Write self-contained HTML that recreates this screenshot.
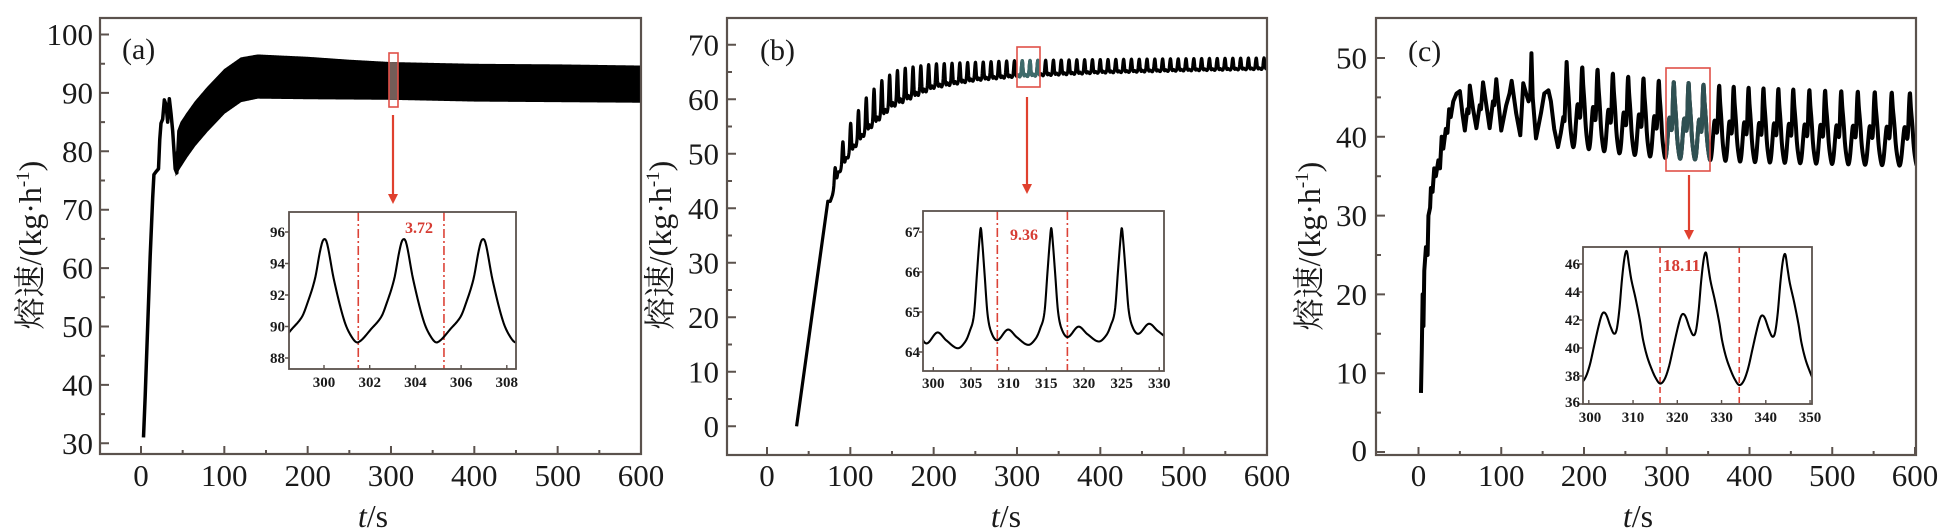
<!DOCTYPE html>
<html><head><meta charset="utf-8">
<style>
html,body{margin:0;padding:0;background:#fff;}
svg{display:block;}
text{font-family:"Liberation Serif","Noto Serif CJK SC",serif;fill:#1a1a1a;}
.yl{font-size:31px;text-anchor:end;}
.xl{font-size:31px;text-anchor:middle;}
.il{font-size:15px;font-weight:bold;text-anchor:end;}
.ix{font-size:15px;font-weight:bold;text-anchor:middle;}
.pl{font-size:30px;}
.tt{font-size:32px;text-anchor:middle;}
.rd{font-size:16px;font-weight:bold;fill:#d63c33;}
</style></head>
<body>
<svg id="s" width="1951" height="530" viewBox="0 0 1951 530" xmlns="http://www.w3.org/2000/svg">
<defs>
<clipPath id="cA"><rect x="100" y="18" width="541" height="436"/></clipPath>
<clipPath id="cB"><rect x="727" y="18" width="540" height="437"/></clipPath>
<clipPath id="cC"><rect x="1376" y="18" width="540" height="437"/></clipPath>
<clipPath id="ciA"><rect x="289" y="212" width="227" height="157"/></clipPath>
<clipPath id="ciB"><rect x="923" y="211" width="241" height="160"/></clipPath>
<clipPath id="ciC"><rect x="1583" y="247" width="229" height="157"/></clipPath>
<clipPath id="bA"><rect x="389" y="53" width="9" height="54"/></clipPath>
<clipPath id="bB"><rect x="1017" y="47" width="23" height="40"/></clipPath>
<clipPath id="bC"><rect x="1666" y="68" width="44" height="103"/></clipPath>
</defs>
<rect x="0" y="0" width="1951" height="530" fill="#fff"/>
<g id="dyn"></g>

<!-- Panel A labels -->
<text class="yl" x="93" y="45">100</text>
<text class="yl" x="93" y="103.4">90</text>
<text class="yl" x="93" y="161.8">80</text>
<text class="yl" x="93" y="220.2">70</text>
<text class="yl" x="93" y="278.6">60</text>
<text class="yl" x="93" y="337">50</text>
<text class="yl" x="93" y="395.4">40</text>
<text class="yl" x="93" y="453.8">30</text>
<text class="xl" x="141" y="486">0</text>
<text class="xl" x="224.3" y="486">100</text>
<text class="xl" x="307.7" y="486">200</text>
<text class="xl" x="391" y="486">300</text>
<text class="xl" x="474.3" y="486">400</text>
<text class="xl" x="557.7" y="486">500</text>
<text class="xl" x="641" y="486">600</text>
<text class="pl" x="122" y="59">(a)</text>
<text class="tt" x="373" y="527"><tspan font-style="italic">t</tspan>/s</text>
<text class="tt" transform="translate(41,245) rotate(-90)">熔速/(kg·h<tspan font-size="19" dy="-12">-1</tspan><tspan dy="12">)</tspan></text>

<!-- Panel B labels -->
<text class="yl" x="719" y="55.3">70</text>
<text class="yl" x="719" y="109.8">60</text>
<text class="yl" x="719" y="164.3">50</text>
<text class="yl" x="719" y="218.8">40</text>
<text class="yl" x="719" y="273.3">30</text>
<text class="yl" x="719" y="327.8">20</text>
<text class="yl" x="719" y="382.3">10</text>
<text class="yl" x="719" y="436.8">0</text>
<text class="xl" x="767" y="486">0</text>
<text class="xl" x="850.3" y="486">100</text>
<text class="xl" x="933.7" y="486">200</text>
<text class="xl" x="1017" y="486">300</text>
<text class="xl" x="1100.3" y="486">400</text>
<text class="xl" x="1183.7" y="486">500</text>
<text class="xl" x="1267" y="486">600</text>
<text class="pl" x="760" y="60">(b)</text>
<text class="tt" x="1006" y="527"><tspan font-style="italic">t</tspan>/s</text>
<text class="tt" transform="translate(671,245) rotate(-90)">熔速/(kg·h<tspan font-size="19" dy="-12">-1</tspan><tspan dy="12">)</tspan></text>

<!-- Panel C labels -->
<text class="yl" x="1367" y="68.5">50</text>
<text class="yl" x="1367" y="147.3">40</text>
<text class="yl" x="1367" y="226.1">30</text>
<text class="yl" x="1367" y="304.9">20</text>
<text class="yl" x="1367" y="383.7">10</text>
<text class="yl" x="1367" y="461">0</text>
<text class="xl" x="1418.5" y="486">0</text>
<text class="xl" x="1501.3" y="486">100</text>
<text class="xl" x="1584" y="486">200</text>
<text class="xl" x="1666.8" y="486">300</text>
<text class="xl" x="1749.5" y="486">400</text>
<text class="xl" x="1832.3" y="486">500</text>
<text class="xl" x="1915" y="486">600</text>
<text class="pl" x="1408" y="61">(c)</text>
<text class="tt" x="1638" y="527"><tspan font-style="italic">t</tspan>/s</text>
<text class="tt" transform="translate(1320,246) rotate(-90)">熔速/(kg·h<tspan font-size="19" dy="-12">-1</tspan><tspan dy="12">)</tspan></text>

<!-- Inset A labels -->
<text class="il" x="285" y="237">96</text>
<text class="il" x="285" y="268.5">94</text>
<text class="il" x="285" y="300">92</text>
<text class="il" x="285" y="331.5">90</text>
<text class="il" x="285" y="363">88</text>
<text class="ix" x="324" y="387">300</text>
<text class="ix" x="369.7" y="387">302</text>
<text class="ix" x="415.4" y="387">304</text>
<text class="ix" x="461.1" y="387">306</text>
<text class="ix" x="506.8" y="387">308</text>
<text class="rd" x="405" y="233">3.72</text>

<!-- Inset B labels -->
<text class="il" x="920" y="237">67</text>
<text class="il" x="920" y="277">66</text>
<text class="il" x="920" y="317">65</text>
<text class="il" x="920" y="357">64</text>
<text class="ix" x="933.3" y="388">300</text>
<text class="ix" x="971" y="388">305</text>
<text class="ix" x="1008.6" y="388">310</text>
<text class="ix" x="1046.3" y="388">315</text>
<text class="ix" x="1084" y="388">320</text>
<text class="ix" x="1121.6" y="388">325</text>
<text class="ix" x="1159.3" y="388">330</text>
<text class="rd" x="1010" y="240">9.36</text>

<!-- Inset C labels -->
<text class="il" x="1580" y="269">46</text>
<text class="il" x="1580" y="297">44</text>
<text class="il" x="1580" y="325">42</text>
<text class="il" x="1580" y="353">40</text>
<text class="il" x="1580" y="381">38</text>
<text class="il" x="1580" y="407">36</text>
<text class="ix" x="1590" y="422">300</text>
<text class="ix" x="1633" y="422">310</text>
<text class="ix" x="1677.3" y="422">320</text>
<text class="ix" x="1721.6" y="422">330</text>
<text class="ix" x="1765.8" y="422">340</text>
<text class="ix" x="1810" y="422">350</text>
<text class="rd" x="1663" y="271" style="font-size:17px">18.11</text>
</svg>
<script>
(function(){
const NS="http://www.w3.org/2000/svg";
const g=document.getElementById('dyn');
function el(tag,attrs){const e=document.createElementNS(NS,tag);for(const k in attrs)e.setAttribute(k,attrs[k]);g.appendChild(e);return e;}
function add(parent,tag,attrs){const e=document.createElementNS(NS,tag);for(const k in attrs)e.setAttribute(k,attrs[k]);parent.appendChild(e);return e;}
function lin(pts,t){if(t<=pts[0][0])return pts[0][1];for(let i=1;i<pts.length;i++){if(t<=pts[i][0]){const a=pts[i-1],b=pts[i];return a[1]+(b[1]-a[1])*(t-a[0])/(b[0]-a[0]);}}return pts[pts.length-1][1];}
function herm(pts,T,s){
  s=((s%T)+T)%T;const n=pts.length;let i=0;while(i<n-2&&s>pts[i+1][0])i++;
  const p1=pts[i],p2=pts[i+1];
  const p0=i>0?pts[i-1]:[pts[n-2][0]-T,pts[n-2][1]];
  const p3=i+2<n?pts[i+2]:[pts[1][0]+T,pts[1][1]];
  const h=p2[0]-p1[0];const m1=(p2[1]-p0[1])/(p2[0]-p0[0]);const m2=(p3[1]-p1[1])/(p3[0]-p1[0]);
  const u=(s-p1[0])/h,u2=u*u,u3=u2*u;
  return (2*u3-3*u2+1)*p1[1]+(u3-2*u2+u)*h*m1+(-2*u3+3*u2)*p2[1]+(u3-u2)*h*m2;
}
function path(fx,fy,arr){return arr.map((p,i)=>(i?'L':'M')+fx(p[0]).toFixed(2)+' '+fy(p[1]).toFixed(2)).join('');}
const FR="#5b524d", RED="#dc4338";

// ---------- Panel A ----------
const fxA=t=>141+t*0.8333, fyA=v=>34.5+(100-v)*5.84;
const earlyA=[[3,31],[5,38],[8,50],[11,62],[14,72],[15.5,76],[18,76.5],[21,77],[22.5,82],[24,84.8],[26,85.5],[28,88.8],[30,88],[32,85],[34,89],[36,86.5],[38,83.5],[41,77],[43,76.3],[44,80]];
const UA=[[42,78],[44,83.5],[48,85],[55,86.5],[65,88.5],[80,91],[100,94],[120,96],[140,96.5],[170,96.3],[200,96.1],[250,95.6],[300,95.2],[400,94.9],[500,94.8],[600,94.6]];
const LA=[[42,76],[46,77],[55,79],[65,81],[80,83.5],[100,86.5],[120,88.5],[140,89.1],[200,89.0],[300,88.9],[400,88.6],[600,88.4]];
let band=[];for(let t=42;t<=602;t+=1)band.push([t,lin(UA,t)]);for(let t=602;t>=42;t-=1)band.push([t,lin(LA,t)]);
const bandD=path(fxA,fyA,band)+'Z';
const gA=el('g',{'clip-path':'url(#cA)'});
add(gA,'path',{d:path(fxA,fyA,earlyA),fill:'none',stroke:'#000','stroke-width':3.5,'stroke-linejoin':'round'});
add(gA,'path',{d:bandD,fill:'#000',stroke:'#000','stroke-width':1});
const gAb=el('g',{'clip-path':'url(#bA)'});
add(gAb,'path',{d:bandD,fill:'#735d58',stroke:'#735d58','stroke-width':1});

// ---------- Panel B ----------
const fxB=t=>767+t*0.8333, fyB=v=>426.3-v*5.45;
const tplB=[[0,67.1],[0.2,66.75],[0.5,66.0],[0.9,65.0],[1.4,64.55],[2.2,64.35],[3.6,64.6],[4.8,64.4],[6.3,64.2],[7.3,64.35],[7.9,64.6],[8.46,65.0],[8.86,66.0],[9.16,66.75],[9.36,67.1]];
const tplBm=[[0,67.1],[0.4,66.8],[0.8,66.0],[1.3,65.0],[1.8,64.55],[2.4,64.35],[3.6,64.6],[4.8,64.4],[6.3,64.2],[7.0,64.35],[7.5,64.6],[8.0,65.1],[8.5,66.1],[8.95,66.8],[9.36,67.1]];
const LB=[[76,41],[85,46],[100,50],[120,54],[150,58.5],[200,62],[250,63.4],[300,64.1],[400,64.8],[500,65.2],[600,65.5]];
const UB=[[76,43],[85,50],[100,55.5],[120,60.5],[140,63.8],[160,65.6],[200,66.5],[300,67.1],[400,67.3],[600,67.6]];
let arrB=[[35.5,0],[73,41.3]];
for(let t=76;t<=602;t+=0.2){const w=Math.max(0,(herm(tplBm,9.36,t-306.3)-64.2)/2.9);const L=lin(LB,t),U=lin(UB,t);arrB.push([t,L+(U-L)*w]);}
const dB=path(fxB,fyB,arrB);
const gB=el('g',{'clip-path':'url(#cB)'});
add(gB,'path',{d:dB,fill:'none',stroke:'#000','stroke-width':3.2,'stroke-linejoin':'round'});
const gBb=el('g',{'clip-path':'url(#bB)'});
add(gBb,'path',{d:dB,fill:'none',stroke:'#3e6b6b','stroke-width':3.2,'stroke-linejoin':'round'});

// ---------- Panel C ----------
const fxC=t=>1418.5+t*0.8275, fyC=v=>452-v*7.88;
const tplC=[[0,46.8],[0.5,45.8],[1.0,44.8],[2.0,43.4],[3.0,41.8],[3.6,40.6],[4.5,39.4],[5.5,38.5],[6.5,37.8],[7.5,37.4],[8.5,37.7],[9.5,38.6],[10.5,40.0],[11.5,41.4],[12.2,42.2],[12.7,42.4],[13.3,42.2],[14.2,41.4],[15.0,40.9],[15.6,41.2],[16.2,42.6],[16.8,44.8],[17.4,46.4],[17.9,46.8]];
const earlyC=[[3,7.5],[4,13],[5,20],[6,16],[7,23],[9,26],[11,25],[12,30],[14,31],[15,33.5],[17,33],[19,36],[21,35],[24,37],[26,36],[28,40],[30,38.5],[33,41],[35,40.5],[37,43.5],[39,42.5],[42,44.5],[46,45.5],[50,45.8],[53,43],[56,40.8],[59,43.5],[60.5,43],[62,46.5],[66,43.5],[70,41.1],[74,44],[75.5,43.5],[78,46.9],[82,44],[86,41.1],[90,44.5],[91.5,44],[94,47.3],[97,44],[100,40.8],[106,44],[110,45.5],[112.6,47.1],[118,43],[123,40.2],[126.6,46.8],[130,45.5],[133,44.5],[135,45],[136.5,50.6],[138,45],[142,39.8],[148,43],[152,45.5],[157,45.9],[160,44.5],[164,41],[168.6,38.7],[172,40.5],[175,42.5],[176.5,42]];
const PK=[179,198,216.5,235,253.5,272,290.5,308.6,326.5,344.5,363.5,381,399,417,435,453,472.5,491.5,511,531,551.5,572,594,614];
const HC=[[179,49.5],[198,48.8],[216.5,48.5],[235,48.0],[253.5,47.6],[272,47.4],[290.5,47.1],[308.6,46.9],[326.5,46.8],[344.5,46.6],[400,46.2],[500,45.8],[600,45.5]];
const MC=[[179,38.8],[250,37.8],[300,37.3],[400,36.8],[600,36.3]];
let arrC=earlyC.slice();
for(let k=0;k<PK.length-1;k++){const a=PK[k],b=PK[k+1];for(let t=a;t<b&&t<=602;t+=0.25){const s=(t-a)*17.9/(b-a);const n=(herm(tplC,17.9,s)-37.4)/9.4;const H=lin(HC,t),m=lin(MC,t);arrC.push([t,m+n*(H-m)]);}}
const dC=path(fxC,fyC,arrC);
const gC=el('g',{'clip-path':'url(#cC)'});
add(gC,'path',{d:dC,fill:'none',stroke:'#000','stroke-width':4,'stroke-linejoin':'round'});
const gCb=el('g',{'clip-path':'url(#bC)'});
add(gCb,'path',{d:dC,fill:'none',stroke:'#2f5052','stroke-width':4,'stroke-linejoin':'round'});

// ---------- Frames & ticks ----------
function frame(x0,y0,x1,y1,sw){el('rect',{x:x0,y:y0,width:x1-x0,height:y1-y0,fill:'none',stroke:FR,'stroke-width':sw});}
function mainTicks(x0,yb,fx,fy,ymaj,ymin){
  let d='';
  ymaj.forEach(v=>{const y=fy(v);d+=`M${x0} ${y}h9`;});
  ymin.forEach(v=>{const y=fy(v);d+=`M${x0} ${y}h5`;});
  for(let t=0;t<=600;t+=100){const x=fx(t);d+=`M${x} ${yb}v-8`;}
  for(let t=50;t<600;t+=100){const x=fx(t);d+=`M${x} ${yb}v-4`;}
  el('path',{d:d,stroke:FR,'stroke-width':2,fill:'none'});
}
frame(100,18,641,454,2.2);
mainTicks(100,454,fxA,fyA,[30,40,50,60,70,80,90,100],[35,45,55,65,75,85,95]);
frame(727,18,1267,455,2.2);
mainTicks(727,455,fxB,fyB,[0,10,20,30,40,50,60,70],[5,15,25,35,45,55,65]);
frame(1376,18,1916,455,2.2);
mainTicks(1376,455,fxC,fyC,[0,10,20,30,40,50],[5,15,25,35,45]);

// ---------- Insets ----------
function inset(x0,y0,x1,y1,clip,arr,fx,fy,xt,yt,reds,dash){
  el('rect',{x:x0,y:y0,width:x1-x0,height:y1-y0,fill:'#fff'});
  const gi=el('g',{'clip-path':'url(#'+clip+')'});
  reds.forEach(t=>{const x=fx(t);add(gi,'line',{x1:x,y1:y0,x2:x,y2:y1,stroke:RED,'stroke-width':1.6,'stroke-dasharray':dash});});
  add(gi,'path',{d:path(fx,fy,arr),fill:'none',stroke:'#000','stroke-width':2.1,'stroke-linejoin':'round'});
  let d='';
  yt.forEach(v=>{d+=`M${x0} ${fy(v)}h-4`;});
  xt.forEach(t=>{d+=`M${fx(t)} ${y1}v-4`;});
  el('path',{d:d,stroke:FR,'stroke-width':1.4,fill:'none'});
  frame(x0,y0,x1,y1,1.8);
}
const fxIA=t=>324+(t-300)*22.85, fyIA=v=>358-(v-88)*15.75;
const tplA=[[0,89.0],[0.6,89.9],[1.0,90.6],[1.2,91.3],[1.57,93.0],[1.8,94.8],[1.94,95.5],[2.1,95.3],[2.4,93.0],[2.85,90.4],[3.2,89.3],[3.47,89.0]];
let aIA=[];for(let t=298.3;t<=308.5;t+=0.04)aIA.push([t,herm(tplA,3.47,t-301.5)]);
inset(289,212,516,369,'ciA',aIA,fxIA,fyIA,[300,302,304,306,308],[88,90,92,94,96],[301.5,305.25],'9,3,2,3');

const fxIB=t=>933.3+(t-300)*7.533, fyIB=v=>352-(v-64)*40;
let aIB=[];for(let t=298.4;t<=331;t+=0.05){let v=herm(tplB,9.36,t-306.3);v+=(t-315)*0.009*(67.1-v)/2.9;aIB.push([t,v]);}
inset(923,211,1164,371,'ciB',aIB,fxIB,fyIB,[300,305,310,315,320,325,330],[64,65,66,67],[308.5,317.8],'9,3,2,3');

const fxIC=t=>1588.8+(t-300)*4.425, fyIC=v=>404-(v-36)*14;
let aIC=[];for(let t=298.4;t<=352;t+=0.08){let v=herm(tplC,17.9,t-308.6)-(t-326.5)*0.006;aIC.push([t,v]);}
inset(1583,247,1812,404,'ciC',aIC,fxIC,fyIC,[300,310,320,330,340,350],[36,38,40,42,44,46],[316.1,334.0],'6,4');

// ---------- Red boxes & arrows ----------
[[389,53,9,54],[1017,47,23,40],[1666,68,44,103]].forEach(r=>el('rect',{x:r[0],y:r[1],width:r[2],height:r[3],fill:'none',stroke:'#e05048','stroke-width':1.6}));
[[393,115,204],[1027,97,194],[1689,175,240]].forEach(a=>{
  el('line',{x1:a[0],y1:a[1],x2:a[0],y2:a[2]-8,stroke:'#e0402e','stroke-width':2.2});
  el('polygon',{points:`${a[0]-5},${a[2]-10} ${a[0]+5},${a[2]-10} ${a[0]},${a[2]}`,fill:'#e0402e'});
});
})();
</script>
</body></html>
